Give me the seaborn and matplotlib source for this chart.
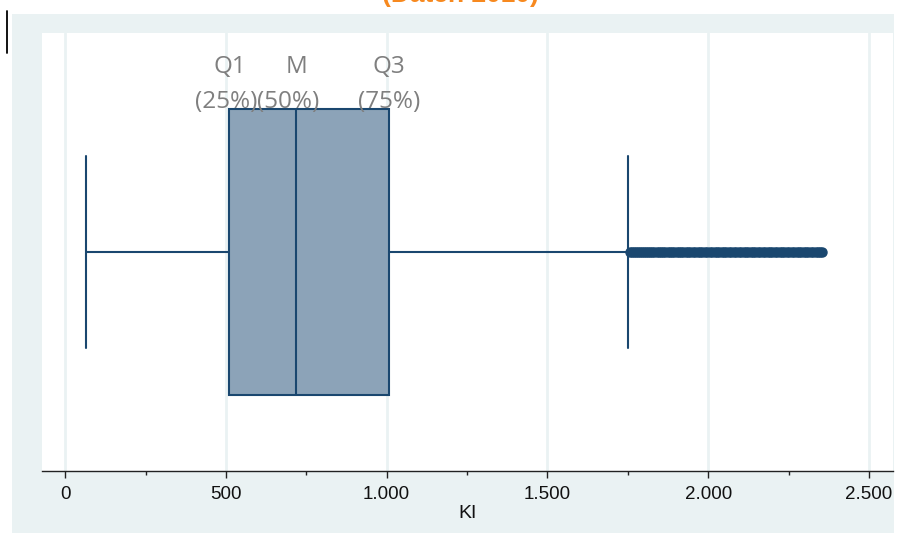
import numpy as np
import pandas as pd
import seaborn as sns
import matplotlib
matplotlib.use("Agg")
import matplotlib.pyplot as plt
from matplotlib.patches import Rectangle
from matplotlib.lines import Line2D

# Summary of the KI distribution
ki_min = 65
ki_q1 = 511
ki_median = 719
ki_q3 = 1007
ki_whisker_high = 1750
ki_outliers = [1757, 1763, 1769, 1775, 1781, 1788, 1794, 1800, 1807, 1813,
               1820, 1826, 1833, 1840, 1846, 1853, 1860, 1867, 1874, 1881,
               1888, 1895, 1902, 1909, 1916, 1923, 1931, 1938, 1945, 1953,
               1960, 1967, 1975, 1982, 1990, 1997, 2005, 2012, 2020, 2027,
               2035, 2042, 2050, 2057, 2065, 2072, 2080, 2087, 2095, 2102,
               2110, 2117, 2125, 2132, 2140, 2147, 2155, 2162, 2170, 2177,
               2185, 2192, 2200, 2207, 2215, 2222, 2230, 2237, 2245, 2252,
               2260, 2267, 2275, 2282, 2290, 2297, 2305, 2312, 2320, 2327,
               2334, 2341, 2348, 2355]

tick_values = [0, 500, 1000, 1500, 2000, 2500]
tick_labels = ["0", "500", "1.000", "1.500", "2.000", "2.500"]
quartile_names = ["Q1", "M", "Q3"]
quartile_pcts = ["(25%)", "(50%)", "(75%)"]

# Sample whose quartiles, whiskers and outliers reproduce the summary above
k = len(ki_outliers) + 1
ki_values = ([ki_min] + [ki_q1] * k + [ki_median] * k + [ki_q3] * k
             + [ki_whisker_high] + ki_outliers)
df = pd.DataFrame({"KI": ki_values})

NAVY = "#1a476f"
FILL = "#8ca3b8"
BG = "#eaf2f3"

sns.set_theme(style="white")
plt.rcParams["font.family"] = ["Liberation Sans", "DejaVu Sans"]

fig = plt.figure(figsize=(9.04, 5.34), dpi=100)
fig.patch.set_facecolor("white")

# light outer panel
fig.add_artist(Rectangle((12 / 904, 1 / 534), 882 / 904, 519 / 534,
                         transform=fig.transFigure, facecolor=BG,
                         edgecolor="none", zorder=0))

ax = fig.add_axes([42 / 904, 1 - 471 / 534, 851 / 904, 438 / 534])
ax.set_facecolor("white")
ax.set_zorder(1)

sns.boxplot(data=df, x="KI", ax=ax, width=0.653, color=FILL, linecolor=NAVY,
            saturation=1, linewidth=1.5, whis=1.5, capwidths=0.438,
            flierprops=dict(marker="o", markerfacecolor=NAVY,
                            markeredgecolor=NAVY, markersize=6.5))

ax.set_xlim(-72, 2575)
ax.set_ylim(0.5, -0.5)
ax.set_yticks([])
ax.set_ylabel("")

ax.set_xticks(tick_values)
ax.set_xticklabels(tick_labels, fontsize=13.5, color="#111111")
ax.set_xticks([250, 750, 1250, 1750, 2250], minor=True)
ax.tick_params(axis="x", which="major", bottom=True, length=5, width=1,
               color="#222222", pad=6)
ax.tick_params(axis="x", which="minor", bottom=True, length=3, width=1,
               color="#222222")
ax.set_xlabel("KI", fontsize=14, color="#111111", labelpad=1)

ax.grid(axis="x", which="major", color=BG, linewidth=2)
ax.set_axisbelow(True)
for side in ["left", "right", "top"]:
    ax.spines[side].set_visible(False)
ax.spines["bottom"].set_color("#222222")
ax.spines["bottom"].set_linewidth(1)

# quartile labels above the box
label_font = ["Open Sans", "DejaVu Sans"]
pct_shift = [-2, -6, 0]
for name, pct, val, dx in zip(quartile_names, quartile_pcts,
                              [ki_q1, ki_median, ki_q3], pct_shift):
    ax.annotate(name, xy=(val, 1 - 40 / 438), xycoords=("data", "axes fraction"),
                ha="center", va="baseline", fontsize=17.5, color="#7f7f7f",
                family=label_font)
    ax.annotate(pct, xy=(val, 1 - 75 / 438), xycoords=("data", "axes fraction"),
                xytext=(dx, 0), textcoords="offset points",
                ha="center", va="baseline", fontsize=17.5, color="#7f7f7f",
                family=label_font)

# title, running off the top edge
fig.text(460 / 904, 1 - 2 / 534, "(Daten 2010)", ha="center", va="baseline",
         fontsize=19, fontweight="bold", color="#f7891f")

# text cursor mark at the top left
fig.add_artist(Line2D([7 / 904, 7 / 904], [1 - 11 / 534, 1 - 53 / 534],
                      transform=fig.transFigure, color="black", linewidth=1.3))

fig.savefig("out.png", dpi=100, facecolor="white")
